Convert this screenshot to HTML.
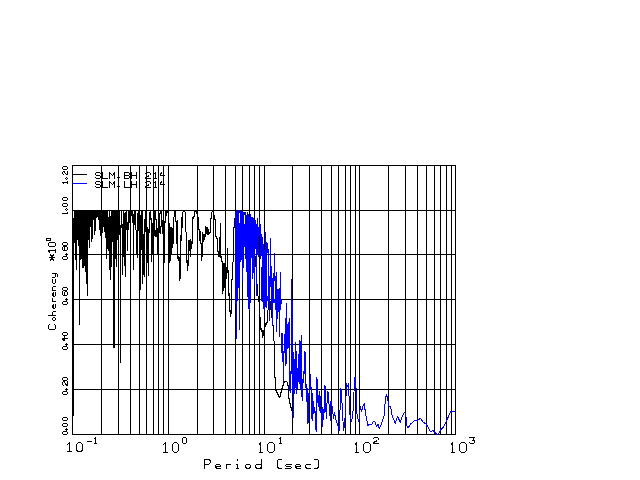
<!DOCTYPE html>
<html><head><meta charset="utf-8"><title>plot</title>
<style>html,body{margin:0;padding:0;background:#fff;font-family:"Liberation Sans",sans-serif;}svg{display:block}</style>
</head><body>
<svg width="640" height="480" viewBox="0 0 640 480" shape-rendering="crispEdges">
<rect width="640" height="480" fill="#fff"/>
<path d="M72.5 165V435M101.5 165V435M118.5 165V435M130.5 165V435M139.5 165V435M146.5 165V435M153.5 165V435M158.5 165V435M163.5 165V435M168.5 165V435M197.5 165V435M213.5 165V435M225.5 165V435M235.5 165V435M242.5 165V435M249.5 165V435M254.5 165V435M259.5 165V435M264.5 165V435M292.5 165V435M309.5 165V435M321.5 165V435M331.5 165V435M338.5 165V435M345.5 165V435M350.5 165V435M355.5 165V435M359.5 165V435M388.5 165V435M405.5 165V435M417.5 165V435M426.5 165V435M434.5 165V435M440.5 165V435M446.5 165V435M451.5 165V435M455.5 165V435M72 434.5H456M72 389.5H456M72 344.5H456M72 299.5H456M72 254.5H456M72 210.5H456M72 165.5H456M72.5 165V435" stroke="#000" stroke-width="1" fill="none"/>
<path d="M72 174.5H87" stroke="#000" stroke-width="1"/>
<path d="M73.5 218V416M74.5 210V243M75.5 210V260M76.5 210V270M77.5 210V240M78.5 210V246M79.5 210V325M80.5 210V260M81.5 210V259M82.5 210V268M83.5 210V268M84.5 210V266M85.5 210V272M86.5 210V284M87.5 210V296M88.5 210V240M89.5 210V248M90.5 210V227M91.5 210V242M92.5 210V239M93.5 210V220M94.5 210V235M95.5 210V231M96.5 210V218M97.5 210V217M98.5 210V220M99.5 210V230M100.5 210V236M102.5 210V233M103.5 210V227M104.5 210V232M105.5 210V238M106.5 210V259M107.5 210V249M108.5 217V251M109.5 210V270M110.5 216V280M111.5 210V267M112.5 210V242M113.5 210V348M114.5 210V348M115.5 210V259M116.5 210V267M117.5 210V240M119.5 210V235M120.5 225V363M121.5 210V228M122.5 224V275M123.5 210V257M124.5 213V266M125.5 212V277M126.5 210V230M127.5 222V251M128.5 210V230M129.5 210V223M131.5 210V216M132.5 210V223M133.5 214V270M134.5 211V225M135.5 211V230M136.5 230V254M137.5 213V258M138.5 211V231M140.5 215V290M141.5 211V250M142.5 211V284M143.5 234V275M144.5 219V277M145.5 211V232M147.5 227V263M148.5 229V276M149.5 212V233M150.5 211V220M151.5 218V262M152.5 223V255M154.5 211V236M155.5 211V220M155.5 230V237M156.5 219V237M157.5 228V255M159.5 213V233M160.5 211V214M160.5 226V234M161.5 211V227M162.5 220V234M164.5 221V263M165.5 211V223M166.5 211V216M167.5 211V213M169.5 223V263M170.5 227V261M171.5 227V255M172.5 228V248M173.5 217V244M174.5 211V217M175.5 211V222M176.5 221V244M177.5 220V259M178.5 256V261M179.5 257V281M180.5 235V279M181.5 217V241M182.5 212V228M183.5 211V212M184.5 211V212M185.5 212V232M186.5 232V263M187.5 260V271M188.5 240V266M189.5 240V251M190.5 239V257M191.5 241V249M192.5 217V244M193.5 216V219M194.5 211V217M195.5 211V212M196.5 211V214M198.5 217V230M199.5 229V241M200.5 231V244M201.5 243V261M202.5 232V257M203.5 234V242M204.5 234V240M205.5 226V237M206.5 227V234M207.5 227V235M208.5 229V235M209.5 232V234M210.5 218V233M211.5 212V219M212.5 211V212M214.5 215V220M215.5 219V237M216.5 236V239M217.5 238V252M218.5 251V257M219.5 237V257M220.5 223V258M221.5 256V262M222.5 261V294M223.5 263V291M224.5 263V288M226.5 267V279M227.5 248V273M228.5 270V296M229.5 293V312M230.5 310V317M231.5 279V314M232.5 262V280M233.5 227V262M234.5 218V228M239.5 211V213M244.5 212V215M255.5 256V267M257.5 284V296M258.5 296V302M260.5 317V330M261.5 328V332M262.5 330V338M263.5 330V336M265.5 323V327M266.5 322V325M267.5 310V323M268.5 302V310M269.5 301V303M270.5 301V310M271.5 310V318M272.5 318V326M273.5 325V341M274.5 341V378M275.5 377V391M276.5 390V393M277.5 392V395M278.5 394V397M279.5 396V398M280.5 392V397M281.5 388V393M282.5 385V389M283.5 383V386M284.5 381V383M285.5 381V382M286.5 381V382M287.5 382V386M288.5 385V399M289.5 398V404M290.5 403V408M291.5 407V411M292.5 410V418" stroke="#000" stroke-width="1" fill="none"/>
<path d="M235.5 212V304M236.5 211V339M237.5 210V301M238.5 210V288M239.5 210V211M239.5 223V330M240.5 211V262M241.5 211V260M242.5 211V282M243.5 212V268M244.5 224V247M245.5 212V259M246.5 215V272M247.5 212V297M248.5 214V309M249.5 217V311M250.5 214V303M251.5 217V258M252.5 217V279M253.5 218V273M254.5 220V285M255.5 220V249M256.5 224V296M257.5 218V255M258.5 227V257M259.5 217V236M260.5 224V259M261.5 234V256M261.5 267V301M262.5 237V302M263.5 244V309M264.5 250V311M265.5 232V307M266.5 242V308M267.5 243V253M267.5 296V301M268.5 249V302M269.5 276V321M270.5 238V287M271.5 266V310M272.5 278V326M273.5 273V303M274.5 253V281M274.5 299V303M275.5 276V310M276.5 272V332M277.5 289V319M278.5 289V312M279.5 288V337M280.5 272V310M281.5 299V304M281.5 333V353M282.5 333V362M283.5 351V384M284.5 334V353M285.5 318V366M286.5 303V364M287.5 324V349M288.5 322V348M289.5 318V391M290.5 371V393M291.5 279V374M292.5 301V393M293.5 352V418M294.5 359V394M295.5 342V388M296.5 351V394M297.5 368V389M298.5 354V382M299.5 340V384M300.5 341V389M301.5 335V397M302.5 379V401M303.5 371V383M304.5 351V374M305.5 352V388M306.5 384V402M307.5 388V424M308.5 393V423M309.5 380V396M310.5 374V389M311.5 387V419M312.5 393V421M313.5 401V414M314.5 407V413M315.5 411V430M316.5 377V432M317.5 379V403M318.5 395V407M319.5 391V411M320.5 396V413M321.5 409V424M322.5 407V427M323.5 409V420M324.5 385V413M325.5 386V412M326.5 410V419" stroke="#0000ff" stroke-width="1" fill="none"/>
<path d="M326 417 L327.9 391 L330.4 421 L331 401 L332.25 407 L333.5 418.5 L334.75 412 L335.4 418.5 L337.9 426 L339.1 430.4 L341 388.5 L342.25 406 L343.5 431 L344.75 423.5 L346.6 383.5 L347.9 387 L348.5 383.5 L349.75 413.5 L351.6 422 L352.9 413.5 L354.75 377 L355.75 377 L356.6 412 L358.75 422 L360.4 406.6 L361.6 412 L362.9 406 L364.1 403.5 L366 416 L367.9 425.4 L369.75 424 L371.6 425 L372.9 422 L374.75 421.6 L376.6 427 L377.9 424 L379.1 428.5 L381.6 423.5 L384.1 416 L385.4 398.5 L386.6 394.75 L387.9 400 L389.1 406 L390.4 406 L392.25 416 L395.4 423.5 L396.6 418.5 L397.9 416.6 L400.2 422.5 L402.25 416.2 L404.85 412 L406.4 418.3 L406.9 426.1 L408.3 427.7 L410.6 424 L414.75 420.4 L417.9 420.2 L420.5 418.3 L423.6 422.5 L426.2 424 L430.4 431.8 L433 430.3 L437.1 434.4 L438.7 433.9 L440.8 429.75 L443.4 427.1 L446 422 L450.7 411.5 L455 411.2" stroke="#0000ff" stroke-width="1" fill="none" stroke-linejoin="round"/>
<path d="M72 183.5H87" stroke="#0000ff" stroke-width="1"/>
<path d="M100.5 173.5 L99.5 172.5 L96.5 172.5 L95.5 173.5 L95.5 174.5 L96.5 175.5 L99.5 175.5 L100.5 176.5 L100.5 177.5 L99.5 178.5 L96.5 178.5 L95.5 177.5M102.5 172.5 L102.5 178.5 L107.5 178.5M109.5 178.5 L109.5 172.5 L112.5 175.5 L114.5 172.5 L114.5 178.5M124.5 172.5 L128.5 172.5 L129.5 173.5 L129.5 174.5 L128.5 175.5 L124.5 175.5M128.5 175.5 L129.5 176.5 L129.5 177.5 L128.5 178.5 L124.5 178.5 L124.5 172.5M131.5 172.5 L131.5 178.5M136.5 172.5 L136.5 178.5M131.5 175.5 L136.5 175.5M145.5 173.5 L146.5 172.5 L149.5 172.5 L150.5 173.5 L150.5 174.5 L149.5 175.5 L147.5 176.5 L145.5 177.5 L145.5 178.5 L150.5 178.5M154.5 173.5 L155.5 172.5 L155.5 178.5M154.5 178.5 L156.5 178.5M163.5 172.5 L163.5 178.5M161.5 172.5 L160.5 174.5 L160.5 175.5 L164.5 175.5M100.5 182.5 L99.5 181.5 L96.5 181.5 L95.5 182.5 L95.5 183.5 L96.5 184.5 L99.5 184.5 L100.5 185.5 L100.5 186.5 L99.5 187.5 L96.5 187.5 L95.5 186.5M102.5 181.5 L102.5 187.5 L107.5 187.5M109.5 187.5 L109.5 181.5 L112.5 184.5 L114.5 181.5 L114.5 187.5M124.5 181.5 L124.5 187.5 L129.5 187.5M131.5 181.5 L131.5 187.5M136.5 181.5 L136.5 187.5M131.5 184.5 L136.5 184.5M145.5 182.5 L146.5 181.5 L149.5 181.5 L150.5 182.5 L150.5 183.5 L149.5 184.5 L147.5 185.5 L145.5 186.5 L145.5 187.5 L150.5 187.5M154.5 182.5 L155.5 181.5 L155.5 187.5M154.5 187.5 L156.5 187.5M163.5 181.5 L163.5 187.5M161.5 181.5 L160.5 183.5 L160.5 184.5 L164.5 184.5M204.5 468.5 L204.5 459.5 L208.5 459.5 L210.5 460.5 L210.5 462.5 L208.5 464.5 L204.5 464.5M215.5 466.5 L220.5 466.5 L220.5 465.5 L219.5 464.5 L216.5 464.5 L215.5 465.5 L215.5 466.5 L216.5 468.5 L220.5 468.5M226.5 464.5 L226.5 468.5M226.5 465.5 L227.5 464.5 L230.5 464.5M237.5 459.5 L237.5 460.5M236.5 464.5 L237.5 464.5 L237.5 468.5M236.5 468.5 L238.5 468.5M246.5 464.5 L249.5 464.5 L250.5 465.5 L250.5 466.5 L249.5 468.5 L246.5 468.5 L245.5 466.5 L245.5 465.5 L246.5 464.5M261.5 459.5 L261.5 468.5M261.5 465.5 L260.5 464.5 L256.5 464.5 L255.5 465.5 L255.5 466.5 L256.5 468.5 L260.5 468.5 L261.5 466.5M281.5 459.5 L278.5 459.5 L277.5 460.5 L277.5 466.5 L278.5 468.5 L281.5 468.5M291.5 464.5 L286.5 464.5 L285.5 465.5 L286.5 466.5 L290.5 466.5 L291.5 467.5 L290.5 468.5 L285.5 468.5M295.5 466.5 L300.5 466.5 L300.5 465.5 L299.5 464.5 L296.5 464.5 L295.5 465.5 L295.5 466.5 L296.5 468.5 L300.5 468.5M310.5 464.5 L306.5 464.5 L305.5 465.5 L305.5 466.5 L306.5 468.5 L310.5 468.5M314.5 459.5 L317.5 459.5 L318.5 460.5 L318.5 466.5 L317.5 468.5 L314.5 468.5M67.5 444.5 L69.5 442.5 L69.5 451.5M67.5 451.5 L71.5 451.5M78.5 442.5 L80.5 442.5 L82.5 444.5 L82.5 450.5 L80.5 451.5 L78.5 451.5 L76.5 450.5 L76.5 444.5 L78.5 442.5M163.5 444.5 L165.5 442.5 L165.5 452.5M163.5 452.5 L167.5 452.5M174.5 442.5 L176.5 442.5 L178.5 444.5 L178.5 450.5 L176.5 452.5 L174.5 452.5 L172.5 450.5 L172.5 444.5 L174.5 442.5M259.5 444.5 L260.5 442.5 L260.5 452.5M259.5 452.5 L262.5 452.5M269.5 442.5 L272.5 442.5 L274.5 444.5 L274.5 450.5 L272.5 452.5 L269.5 452.5 L267.5 450.5 L267.5 444.5 L269.5 442.5M355.5 444.5 L356.5 442.5 L356.5 452.5M355.5 452.5 L358.5 452.5M365.5 442.5 L368.5 442.5 L370.5 444.5 L370.5 450.5 L368.5 452.5 L365.5 452.5 L363.5 450.5 L363.5 444.5 L365.5 442.5M451.5 444.5 L452.5 442.5 L452.5 452.5M451.5 452.5 L454.5 452.5M461.5 442.5 L464.5 442.5 L466.5 444.5 L466.5 450.5 L464.5 452.5 L461.5 452.5 L459.5 450.5 L459.5 444.5 L461.5 442.5M87.5 441.5 L91.5 441.5M94.5 438.5 L95.5 437.5 L95.5 443.5M94.5 443.5 L96.5 443.5M183.5 437.5 L185.5 437.5 L186.5 438.5 L186.5 442.5 L185.5 443.5 L183.5 443.5 L182.5 442.5 L182.5 438.5 L183.5 437.5M279.5 438.5 L280.5 437.5 L280.5 443.5M279.5 443.5 L281.5 443.5M373.5 438.5 L374.5 437.5 L377.5 437.5 L378.5 438.5 L378.5 439.5 L377.5 440.5 L375.5 441.5 L373.5 442.5 L373.5 443.5 L378.5 443.5M469.5 437.5 L474.5 437.5 L472.5 440.5 L473.5 440.5 L474.5 440.5 L474.5 442.5 L473.5 443.5 L470.5 443.5 L469.5 442.5M62.5 433.5 L62.5 432.5 L63.5 431.5 L66.5 431.5 L67.5 432.5 L67.5 433.5 L66.5 434.5 L63.5 434.5 L62.5 433.5M62.5 425.5 L62.5 424.5 L63.5 423.5 L66.5 423.5 L67.5 424.5 L67.5 425.5 L66.5 426.5 L63.5 426.5 L62.5 425.5M62.5 419.5 L62.5 418.5 L63.5 417.5 L66.5 417.5 L67.5 418.5 L67.5 419.5 L66.5 420.5 L63.5 420.5 L62.5 419.5M62.5 393.5 L62.5 392.5 L63.5 391.5 L66.5 391.5 L67.5 392.5 L67.5 393.5 L66.5 394.5 L63.5 394.5 L62.5 393.5M63.5 385.5 L62.5 384.5 L62.5 382.5 L63.5 381.5 L64.5 381.5 L64.5 382.5 L65.5 383.5 L66.5 385.5 L67.5 385.5 L67.5 381.5M62.5 379.5 L62.5 378.5 L63.5 377.5 L66.5 377.5 L67.5 378.5 L67.5 379.5 L66.5 380.5 L63.5 380.5 L62.5 379.5M62.5 348.5 L62.5 347.5 L63.5 346.5 L66.5 346.5 L67.5 347.5 L67.5 348.5 L66.5 349.5 L63.5 349.5 L62.5 348.5M62.5 338.5 L67.5 338.5M62.5 339.5 L64.5 340.5 L64.5 340.5 L64.5 336.5M62.5 334.5 L62.5 333.5 L63.5 332.5 L66.5 332.5 L67.5 333.5 L67.5 334.5 L66.5 335.5 L63.5 335.5 L62.5 334.5M62.5 303.5 L62.5 302.5 L63.5 301.5 L66.5 301.5 L67.5 302.5 L67.5 303.5 L66.5 304.5 L63.5 304.5 L62.5 303.5M62.5 291.5 L62.5 294.5 L63.5 295.5 L66.5 295.5 L67.5 294.5 L67.5 292.5 L66.5 291.5 L65.5 291.5 L64.5 292.5 L64.5 295.5M62.5 289.5 L62.5 288.5 L63.5 287.5 L66.5 287.5 L67.5 288.5 L67.5 289.5 L66.5 290.5 L63.5 290.5 L62.5 289.5M62.5 258.5 L62.5 257.5 L63.5 256.5 L66.5 256.5 L67.5 257.5 L67.5 258.5 L66.5 259.5 L63.5 259.5 L62.5 258.5M62.5 249.5 L62.5 247.5 L63.5 246.5 L64.5 246.5 L64.5 247.5 L64.5 249.5 L64.5 250.5 L63.5 250.5 L62.5 249.5M64.5 249.5 L65.5 250.5 L66.5 250.5 L67.5 249.5 L67.5 247.5 L66.5 246.5 L65.5 246.5 L64.5 247.5M62.5 244.5 L62.5 243.5 L63.5 242.5 L66.5 242.5 L67.5 243.5 L67.5 244.5 L66.5 245.5 L63.5 245.5 L62.5 244.5M62.5 205.5 L62.5 204.5 L63.5 203.5 L66.5 203.5 L67.5 204.5 L67.5 205.5 L66.5 206.5 L63.5 206.5 L62.5 205.5M62.5 199.5 L62.5 198.5 L63.5 197.5 L66.5 197.5 L67.5 198.5 L67.5 199.5 L66.5 200.5 L63.5 200.5 L62.5 199.5M62.5 213.5 L67.5 213.5M67.5 212.5 L67.5 213.5M63.5 183.5 L62.5 182.5 L67.5 182.5M67.5 183.5 L67.5 181.5M63.5 174.5 L62.5 173.5 L62.5 172.5 L63.5 171.5 L64.5 171.5 L64.5 172.5 L65.5 173.5 L66.5 174.5 L67.5 174.5 L67.5 171.5M62.5 168.5 L62.5 167.5 L63.5 166.5 L66.5 166.5 L67.5 167.5 L67.5 168.5 L66.5 169.5 L63.5 169.5 L62.5 168.5M49.5 324.5 L48.5 325.5 L48.5 328.5 L49.5 329.5 L54.5 329.5 L55.5 328.5 L55.5 325.5 L54.5 324.5M52.5 319.5 L52.5 318.5 L53.5 317.5 L54.5 317.5 L55.5 318.5 L55.5 319.5 L54.5 320.5 L53.5 320.5 L52.5 319.5M48.5 315.5 L55.5 315.5M53.5 315.5 L52.5 314.5 L52.5 312.5 L53.5 311.5 L55.5 311.5M53.5 308.5 L53.5 304.5 L53.5 304.5 L52.5 305.5 L52.5 307.5 L53.5 308.5 L54.5 308.5 L55.5 307.5 L55.5 304.5M52.5 301.5 L55.5 301.5M53.5 301.5 L52.5 300.5 L52.5 298.5M53.5 296.5 L53.5 292.5 L53.5 292.5 L52.5 293.5 L52.5 295.5 L53.5 296.5 L54.5 296.5 L55.5 295.5 L55.5 292.5M52.5 290.5 L55.5 290.5M53.5 290.5 L52.5 289.5 L52.5 287.5 L53.5 286.5 L55.5 286.5M52.5 279.5 L52.5 282.5 L53.5 283.5 L54.5 283.5 L55.5 282.5 L55.5 279.5M52.5 277.5 L54.5 277.5 L55.5 276.5 L55.5 273.5M52.5 273.5 L56.5 273.5 L57.5 274.5 L57.5 276.5M49.5 257.5 L54.5 257.5M50.5 260.5 L53.5 254.5M53.5 260.5 L50.5 254.5M49.5 252.5 L48.5 250.5 L55.5 250.5M55.5 252.5 L55.5 249.5M48.5 245.5 L48.5 243.5 L49.5 242.5 L54.5 242.5 L55.5 243.5 L55.5 245.5 L54.5 246.5 L49.5 246.5 L48.5 245.5M46.5 240.5 L46.5 238.5 L47.5 238.5 L49.5 238.5 L50.5 238.5 L50.5 240.5 L49.5 240.5 L47.5 240.5 L46.5 240.5" stroke="#000" stroke-width="1" fill="none" stroke-linecap="square"/>
<rect x="118" y="176" width="1" height="1" fill="#000"/>
<rect x="117" y="177" width="1" height="1" fill="#000"/>
<rect x="119" y="177" width="1" height="1" fill="#000"/>
<rect x="118" y="178" width="1" height="1" fill="#000"/>
<rect x="118" y="185" width="1" height="1" fill="#000"/>
<rect x="117" y="186" width="1" height="1" fill="#000"/>
<rect x="119" y="186" width="1" height="1" fill="#000"/>
<rect x="118" y="187" width="1" height="1" fill="#000"/>
<rect x="66" y="428" width="1" height="1" fill="#000"/>
<rect x="65" y="429" width="1" height="1" fill="#000"/>
<rect x="67" y="429" width="1" height="1" fill="#000"/>
<rect x="66" y="430" width="1" height="1" fill="#000"/>
<rect x="66" y="429" width="1" height="1" fill="#000"/>
<rect x="66" y="388" width="1" height="1" fill="#000"/>
<rect x="65" y="389" width="1" height="1" fill="#000"/>
<rect x="67" y="389" width="1" height="1" fill="#000"/>
<rect x="66" y="390" width="1" height="1" fill="#000"/>
<rect x="66" y="389" width="1" height="1" fill="#000"/>
<rect x="66" y="343" width="1" height="1" fill="#000"/>
<rect x="65" y="344" width="1" height="1" fill="#000"/>
<rect x="67" y="344" width="1" height="1" fill="#000"/>
<rect x="66" y="345" width="1" height="1" fill="#000"/>
<rect x="66" y="344" width="1" height="1" fill="#000"/>
<rect x="66" y="298" width="1" height="1" fill="#000"/>
<rect x="65" y="299" width="1" height="1" fill="#000"/>
<rect x="67" y="299" width="1" height="1" fill="#000"/>
<rect x="66" y="300" width="1" height="1" fill="#000"/>
<rect x="66" y="299" width="1" height="1" fill="#000"/>
<rect x="66" y="253" width="1" height="1" fill="#000"/>
<rect x="65" y="254" width="1" height="1" fill="#000"/>
<rect x="67" y="254" width="1" height="1" fill="#000"/>
<rect x="66" y="255" width="1" height="1" fill="#000"/>
<rect x="66" y="254" width="1" height="1" fill="#000"/>
<rect x="66" y="208" width="1" height="1" fill="#000"/>
<rect x="65" y="209" width="1" height="1" fill="#000"/>
<rect x="67" y="209" width="1" height="1" fill="#000"/>
<rect x="66" y="210" width="1" height="1" fill="#000"/>
<rect x="66" y="177" width="1" height="1" fill="#000"/>
<rect x="65" y="178" width="1" height="1" fill="#000"/>
<rect x="67" y="178" width="1" height="1" fill="#000"/>
<rect x="66" y="179" width="1" height="1" fill="#000"/>
</svg>
</body></html>
